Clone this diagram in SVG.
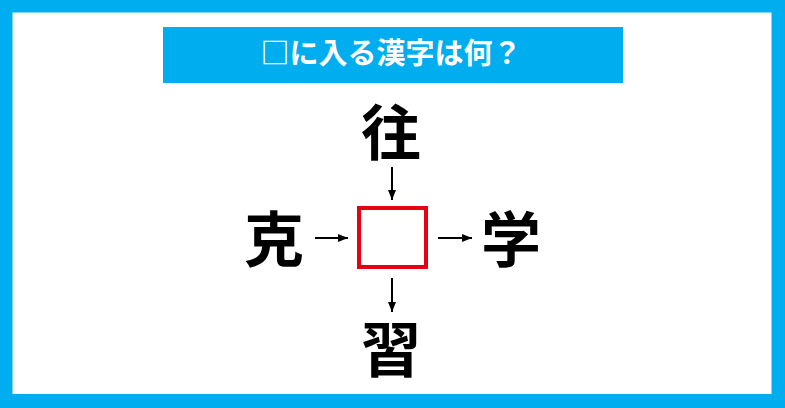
<svg xmlns="http://www.w3.org/2000/svg" width="785" height="408" viewBox="0 0 785 408">
<defs>
<style>
.kanji{font-family:"Noto Sans CJK JP","Noto Sans CJK SC",sans-serif;font-weight:bold;font-size:60px;fill:#000;text-anchor:middle;dominant-baseline:central}
.title{font-family:"Noto Sans CJK JP","Noto Sans CJK SC",sans-serif;font-weight:bold;font-size:29px;fill:#fff;text-anchor:middle;dominant-baseline:central}
.arrow{stroke:#000;stroke-width:2;fill:none}
</style>
<marker id="ah" viewBox="0 0 10 10" refX="10" refY="5" markerWidth="5" markerHeight="5" orient="auto" markerUnits="strokeWidth">
<path d="M0,1 L10,5 L0,9 Z" fill="#000"/>
</marker>
</defs>
<rect x="0" y="0" width="785" height="408" fill="#00aeef"/>
<rect x="12.5" y="12.5" width="759" height="381.5" fill="#fff"/>
<g id="title">
<rect x="163" y="27" width="460" height="56" fill="#00aeef"/>
<text class="title" x="391" y="51">□に入る漢字は何？</text>
</g>
<g id="center">
<rect x="359" y="208" width="67" height="59" fill="#fff" stroke="#e60012" stroke-width="4"/>
</g>
<g id="top"><text class="kanji" x="391" y="128">往</text></g>
<g id="left"><text class="kanji" x="274" y="235">克</text></g>
<g id="right"><text class="kanji" x="511" y="235">学</text></g>
<g id="bottom"><text class="kanji" x="391" y="345">習</text></g>
<g id="connectors">
<line class="arrow" x1="392" y1="167" x2="392" y2="200" marker-end="url(#ah)"/>
<line class="arrow" x1="315" y1="238" x2="348" y2="238" marker-end="url(#ah)"/>
<line class="arrow" x1="438" y1="238" x2="472" y2="238" marker-end="url(#ah)"/>
<line class="arrow" x1="392" y1="278" x2="392" y2="312" marker-end="url(#ah)"/>
</g>
</svg>
